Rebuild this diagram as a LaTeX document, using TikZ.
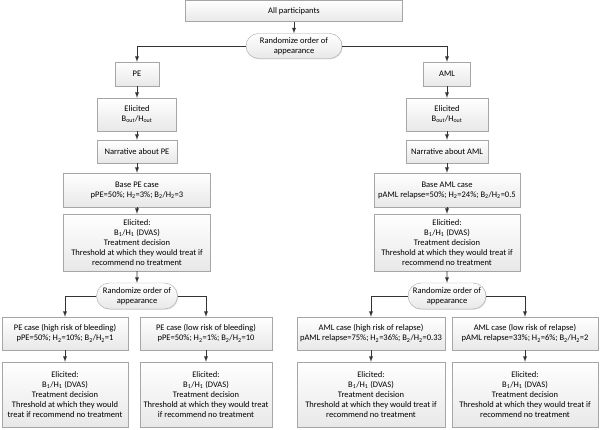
\documentclass[tikz,border=0pt]{standalone}
\usepackage{fontspec}
\setmainfont{Carlito}
\usetikzlibrary{shapes.misc,shadows}
\tikzset{>=latex}
\tikzset{
  box/.style={draw=gray!70, top color=white, bottom color=gray!18, align=center,
    inner sep=0.5pt, drop shadow={shadow xshift=0.8pt, shadow yshift=-0.8pt, opacity=0.25},
    font=\fontsize{8.5}{10}\selectfont},
  randbox/.style={box, rounded rectangle},
  link/.style={->, draw=gray!40!black, line width=0.9pt}
}

\begin{document}
\begin{tikzpicture}[x=1pt,y=-1pt]
\useasboundingbox (0,0) rectangle (600,430);

\node[box, minimum width=217pt, minimum height=21pt] (all) at (294,11) {All participants};
\node[randbox, minimum width=97pt, minimum height=25pt] (rand) at (294,46) {Randomize order of\\appearance};

% PE side
\node[box, minimum width=44pt, minimum height=24pt] (pe) at (137,74) {PE};
\node[box, minimum width=79pt, minimum height=33pt] (peout) at (137,114.5) {Elicited\\B\textsubscript{out}/H\textsubscript{out}};
\node[box, minimum width=80pt, minimum height=23pt] (penarr) at (137,151.5) {Narrative about PE};
\node[box, minimum width=147pt, minimum height=34pt] (pebase) at (137,190) {Base PE case\\pPE=50\%; H\textsubscript{2}=3\%; B\textsubscript{2}/H\textsubscript{2}=3};
\node[box, minimum width=147pt, minimum height=57pt] (peelic) at (137,242.5) {Elicited:\\B\textsubscript{1}/H\textsubscript{1} (DVAS)\\Treatment decision\\Threshold at which they would treat if\\recommend no treatment};
\node[randbox, minimum width=82pt, minimum height=26pt] (perand) at (137,296) {Randomize order of\\appearance};
\node[box, minimum width=126pt, minimum height=33pt] (pehigh) at (65,333.5) {PE case (high risk of bleeding)\\pPE=50\%; H\textsubscript{2}=10\%; B\textsubscript{2}/H\textsubscript{2}=1};
\node[box, minimum width=132pt, minimum height=33pt] (pelow) at (206,333.5) {PE case (low risk of bleeding)\\pPE=50\%; H\textsubscript{2}=1\%; B\textsubscript{2}/H\textsubscript{2}=10};
\node[box, minimum width=126pt, minimum height=65pt] (pehighel) at (65,394.5) {Elicited:\\B\textsubscript{1}/H\textsubscript{1} (DVAS)\\Treatment decision\\Threshold at which they would\\treat if recommend no treatment};
\node[box, minimum width=132pt, minimum height=65pt] (pelowel) at (206,394.5) {Elicited:\\B\textsubscript{1}/H\textsubscript{1} (DVAS)\\Treatment decision\\Threshold at which they would treat\\if recommend no treatment};

% AML side
\node[box, minimum width=47pt, minimum height=24pt] (aml) at (447,74) {AML};
\node[box, minimum width=82pt, minimum height=33pt] (amlout) at (447,114.5) {Elicited\\B\textsubscript{out}/H\textsubscript{out}};
\node[box, minimum width=82pt, minimum height=23pt] (amlnarr) at (447,151.5) {Narrative about AML};
\node[box, minimum width=146pt, minimum height=34pt] (amlbase) at (447,190) {Base AML case\\pAML relapse=50\%; H\textsubscript{2}=24\%; B\textsubscript{2}/H\textsubscript{2}=0.5};
\node[box, minimum width=146pt, minimum height=57pt] (amlelic) at (447,242.5) {Elicitied:\\B\textsubscript{1}/H\textsubscript{1} (DVAS)\\Treatment decision\\Threshold at which they would treat if\\recommend no treatment};
\node[randbox, minimum width=79pt, minimum height=26pt] (amlrand) at (447,296) {Randomize order of\\appearance};
\node[box, minimum width=148pt, minimum height=33pt] (amlhigh) at (371,333.5) {AML case (high risk of relapse)\\pAML relapse=75\%; H\textsubscript{2}=36\%; B\textsubscript{2}/H\textsubscript{2}=0.33};
\node[box, minimum width=146pt, minimum height=33pt] (amllow) at (525,333.5) {AML case (low risk of relapse)\\pAML relapse=33\%; H\textsubscript{2}=6\%; B\textsubscript{2}/H\textsubscript{2}=2};
\node[box, minimum width=148pt, minimum height=65pt] (amlhighel) at (371,394.5) {Elicited:\\B\textsubscript{1}/H\textsubscript{1} (DVAS)\\Treatment decision\\Threshold at which they would treat if\\recommend no treatment};
\node[box, minimum width=146pt, minimum height=65pt] (amllowel) at (525,394.5) {Elicited:\\B\textsubscript{1}/H\textsubscript{1} (DVAS)\\Treatment decision\\Threshold at which they would treat if\\recommend no treatment};

% connectors
\draw[link] (all) -- (rand);
\draw[link] (rand.west) -| (pe.north);
\draw[link] (rand.east) -| (aml.north);

\draw[link] (pe) -- (peout);
\draw[link] (peout) -- (penarr);
\draw[link] (penarr) -- (pebase);
\draw[link] (pebase) -- (peelic);
\draw[link] (peelic) -- (perand);
\draw[link] (perand.west) -| (pehigh.north);
\draw[link] (perand.east) -| (pelow.north);
\draw[link] (pehigh) -- (pehighel);
\draw[link] (pelow) -- (pelowel);

\draw[link] (aml) -- (amlout);
\draw[link] (amlout) -- (amlnarr);
\draw[link] (amlnarr) -- (amlbase);
\draw[link] (amlbase) -- (amlelic);
\draw[link] (amlelic) -- (amlrand);
\draw[link] (amlrand.west) -| (amlhigh.north);
\draw[link] (amlrand.east) -| (amllow.north);
\draw[link] (amlhigh) -- (amlhighel);
\draw[link] (amllow) -- (amllowel);
\end{tikzpicture}
\end{document}
